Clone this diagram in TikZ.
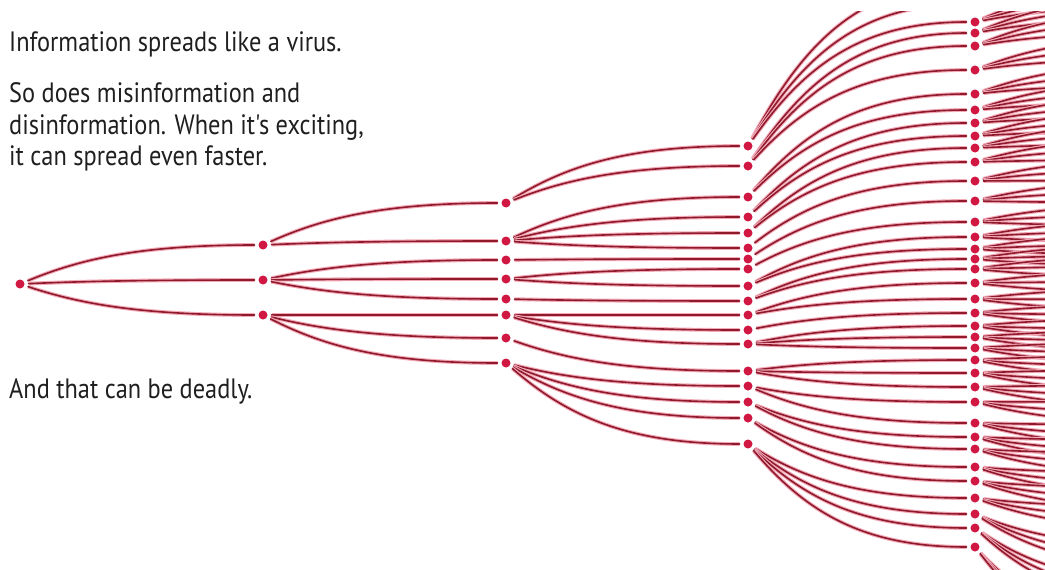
\documentclass[tikz,border=0pt]{standalone}
\usepackage{fontspec}
\newfontfamily\hand[FakeStretch=0.87]{PT Sans}
\usetikzlibrary{calc}
\definecolor{linkred}{HTML}{8E1A2C}
\definecolor{glow}{HTML}{F3A9B8}
\definecolor{dotred}{HTML}{D01843}
\tikzset{
  dot/.style={circle, fill=dotred, draw=none, inner sep=0pt, minimum size=9pt, outer sep=4pt},
  link/.style={draw=linkred, line width=1.6pt, line cap=round, preaction={draw=glow, line width=3.8pt}},
  txt/.style={anchor=base west, inner sep=0pt, font=\hand\fontsize{28}{31}\selectfont, text=black!88}
}
\newcommand\lnk[2]{\draw[link] let \p1=(#1.center),\p2=(#2.center) in (#1) .. controls ({\x1+0.25*(\x2-\x1)},{\y1+0.65*(\y2-\y1)}) and ({\x1+0.5*(\x2-\x1)},\y2) .. (#2);}
\begin{document}
\begin{tikzpicture}[x=1pt,y=-1pt]
\useasboundingbox (0,0) rectangle (1045,570);
\fill[white] (0,0) rectangle (1045,570);
% texts
\node[txt] (t1) at (9,51) {Information spreads like a virus.};
\node[txt] (t2) at (9,102) {So does misinformation and};
\node[txt] (t3) at (9,134) {disinformation. When it's exciting,};
\node[txt] (t4) at (9,165) {it can spread even faster.};
\node[txt] (t5) at (9,398) {And that can be deadly.};
\begin{scope}
\clip (0,11) rectangle (1045,570);
% nodes
\node[dot] (a) at (20,284) {};
\foreach \i/\yy in {1/245,2/280,3/315} {\node[dot] (b\i) at (263,\yy) {};}
\foreach \i/\yy in {1/203,2/241,3/260,4/279,5/299,6/315,7/338,8/363} {\node[dot] (c\i) at (506,\yy) {};}
\foreach \i/\yy in {1/146,2/166,3/197,4/217,5/233,6/248,7/259,8/269,9/286,10/301,11/315,12/330,13/344,14/371,15/386,16/402,17/418,18/444} {\node[dot] (d\i) at (748,\yy) {};}
\foreach \i/\yy in {1/-16,2/4,3/22,4/33,5/46,6/70,7/94,8/110,9/123,10/136,11/148,12/162,13/181,14/201,15/222,16/237,17/249,18/259,19/269,20/283,21/299,22/313,23/326,24/337,25/348,26/360,27/373,28/387,29/402,30/423,31/437,32/449,33/467,34/481,35/498,36/514,37/528,38/547} {
  \node[dot] (e\i) at (975,\yy) {};
  \foreach \k [count=\j] in {-12,-1,10} {
    \coordinate (f\i-\j) at (1200,{285+1.1*(\yy-285)+\k+(\yy>500)*1.6*(\yy-500)});
  }
}
% links
\foreach \i in {1,2,3} {\lnk{a}{b\i}}
\foreach \u/\v in {1/1,1/2,2/3,2/4,2/5,3/6,3/7,3/8} {\lnk{b\u}{c\v}}
\foreach \u/\v in {1/1,1/2,2/3,2/4,2/5,2/6,3/7,4/8,4/9,5/10,6/11,6/12,6/13,7/14,8/15,8/16,8/17,8/18} {\lnk{c\u}{d\v}}
\foreach \u/\v in {1/1,1/2,1/3,2/4,2/5,2/6,3/7,3/8,4/9,4/10,5/11,5/12,6/13,7/14,8/15,9/16,9/17,10/18,10/19,11/20,11/21,12/22,13/23,13/24,13/25,14/26,14/27,14/28,15/29,15/30,16/31,16/32,17/33,17/34,18/35,18/36,18/37,18/38} {\lnk{d\u}{e\v}}
\foreach \i in {1,...,38} {\foreach \j in {1,2,3} {\lnk{e\i}{f\i-\j}}}
\end{scope}
\end{tikzpicture}
\end{document}
